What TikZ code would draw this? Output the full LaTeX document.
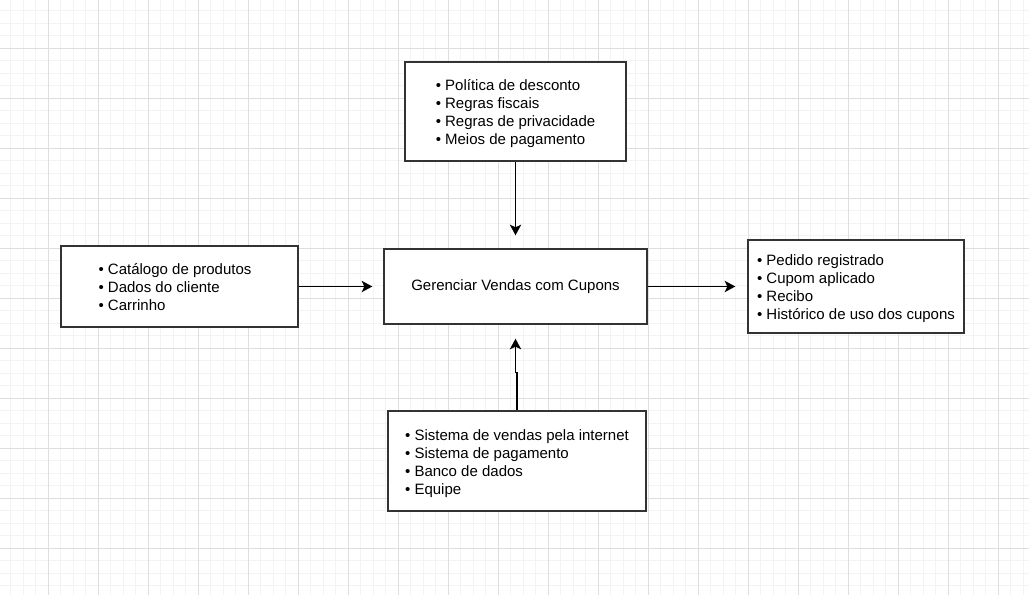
\documentclass[tikz,border=0pt]{standalone}
\usepackage{fontspec}
\setmainfont{Liberation Sans}
\usetikzlibrary{arrows.meta}
\definecolor{gridminor}{HTML}{F3F3F3}
\definecolor{gridmajor}{HTML}{DEDEDE}
\definecolor{boxline}{HTML}{333333}
\tikzset{
  px/.style={x=0.75pt,y=-0.75pt},
  box/.style={draw=boxline,line width=1pt,fill=white,inner sep=0pt,
    font=\fontsize{11.25}{13.4}\selectfont,rectangle},
  arr/.style={draw=black,line width=1pt,-{Stealth[length=8pt,width=8.5pt,inset=2pt]}}
}
\newcommand{\lst}[1]{\raisebox{-2pt}[\height][\depth]{\begin{tabular}{@{}l@{}}#1\end{tabular}}}
\begin{document}
\begin{tikzpicture}[px]
\useasboundingbox (0,0) rectangle (1029,595);
\fill[white] (0,0) rectangle (1029,595);
% grid
\foreach \g in {10.8,23.3,...,1029} {
  \draw[gridminor,line width=0.7pt] (\g,0) -- (\g,595);
}
\foreach \g in {10.8,23.3,...,595} {
  \draw[gridminor,line width=0.7pt] (0,\g) -- (1029,\g);
}
\foreach \g in {48.3,98.3,...,1029} {
  \draw[gridmajor,line width=0.75pt] (\g,0) -- (\g,595);
}
\foreach \g in {48.3,98.3,...,595} {
  \draw[gridmajor,line width=0.75pt] (0,\g) -- (1029,\g);
}
% boxes
\node[box,minimum width=165.75pt,minimum height=74.25pt] (ctrl) at (515.5,111.5)
  {\lst{• Política de desconto\\ • Regras fiscais\\ • Regras de privacidade\\ • Meios de pagamento}};
\node[box,minimum width=177.75pt,minimum height=60.75pt] (inp) at (179.5,286.5)
  {\hspace*{-6.75pt}\lst{• Catálogo de produtos\\ • Dados do cliente\\ • Carrinho}};
\node[box,minimum width=197.25pt,minimum height=56.25pt] (proc) at (515.5,286.5)
  {Gerenciar Vendas com Cupons};
\node[box,minimum width=162pt,minimum height=69.75pt] (out) at (856,286.5)
  {\lst{• Pedido registrado\\ • Cupom aplicado\\ • Recibo\\ • Histórico de uso dos cupons}};
\node[box,minimum width=193.5pt,minimum height=75pt] (mech) at (517,461)
  {\lst{• Sistema de vendas pela internet\\ • Sistema de pagamento\\ • Banco de dados\\ • Equipe}};
% connectors
\draw[arr,shorten >=9.75pt] (ctrl.south) -- (proc.north);
\draw[arr,shorten >=8.25pt] (inp.east) -- (proc.west);
\draw[arr,shorten >=9pt] (proc.east) -- (out.west);
\draw[arr,shorten >=10.5pt] (mech.north) -- ++(0,-38) -- ++(-1.5,0) -- (proc.south);
\end{tikzpicture}
\end{document}
